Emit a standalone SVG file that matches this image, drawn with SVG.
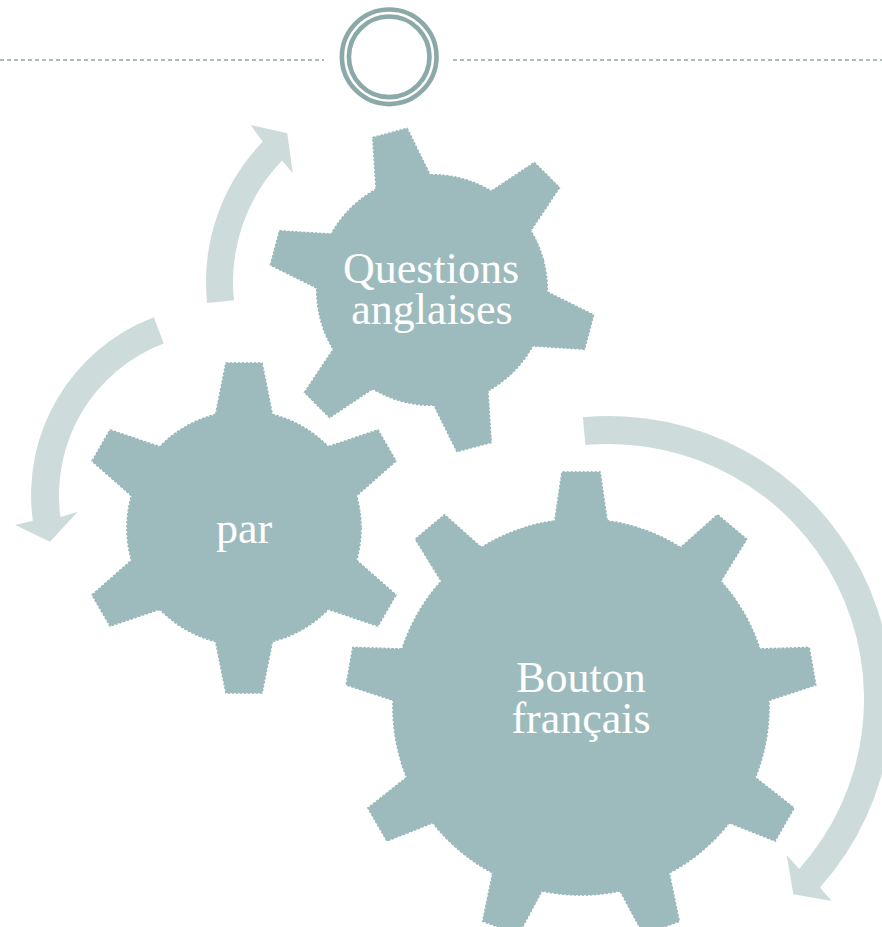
<svg xmlns="http://www.w3.org/2000/svg" width="882" height="927" viewBox="0 0 882 927">
<style>
.arrow{fill:#cddcdb;stroke:none}
.gline{fill:none;stroke:#93b3b5;stroke-width:1.6;stroke-dasharray:2.5 1.5}
.gfill{fill:#9dbbbd;stroke:none}
.lbl{font-family:"Liberation Serif","Times New Roman",serif;font-size:44px;fill:#ffffff;text-anchor:middle}
.ring{fill:none;stroke:#8ba9a8;stroke-width:4.6}
.rule{fill:none;stroke:#8ba9a8;stroke-width:1.3;stroke-dasharray:4 3}
</style>
<defs>
  <polygon id="t6" points="-29,-110 -18,-165 18,-165 29,-110"/>
  <g id="g6">
    <circle r="117"/>
    <use href="#t6"/>
    <use href="#t6" transform="rotate(60)"/>
    <use href="#t6" transform="rotate(120)"/>
    <use href="#t6" transform="rotate(180)"/>
    <use href="#t6" transform="rotate(240)"/>
    <use href="#t6" transform="rotate(300)"/>
  </g>
  <polygon id="t9" points="-27,-180 -19,-235 19,-235 27,-180"/>
  <g id="g9">
    <circle r="188"/>
    <use href="#t9"/>
    <use href="#t9" transform="rotate(40)"/>
    <use href="#t9" transform="rotate(80)"/>
    <use href="#t9" transform="rotate(120)"/>
    <use href="#t9" transform="rotate(160)"/>
    <use href="#t9" transform="rotate(200)"/>
    <use href="#t9" transform="rotate(240)"/>
    <use href="#t9" transform="rotate(280)"/>
    <use href="#t9" transform="rotate(320)"/>
  </g>
</defs>

<g id="header">
  <line class="rule" x1="0" y1="60" x2="324" y2="60"/>
  <line class="rule" x1="453" y1="60" x2="882" y2="60"/>
  <circle class="ring" cx="389.2" cy="56.8" r="47.3"/>
  <circle class="ring" cx="389.2" cy="56.8" r="40.3"/>
</g>

<g id="connectors">
  <path class="arrow" d="M 207.1,303.1 A 202 202 0 0 1 262.7,141.7 L 250.7,125 L 287.3,133.3 L 292.7,173.3 L 282.1,160.4 A 175 175 0 0 0 234,300.3 Z"/>
  <path class="arrow" d="M 153.8,317.3 A 190 190 0 0 0 32.8,520.8 L 15,525 L 50,541.7 L 77.7,511.7 L 60.5,517 A 162 162 0 0 1 163.7,343.5 Z"/>
  <path class="arrow" d="M 582.9,417.2 A 283 283 0 0 1 820,887.6 L 831.7,901 L 793.3,894.3 L 786.7,855 L 799.1,869 A 255 255 0 0 0 585.4,445.1 Z"/>
</g>

<g id="node-questions">
  <g transform="translate(432,290) rotate(-15) scale(0.985)">
    <use href="#g6" class="gline"/>
    <use href="#g6" class="gfill"/>
  </g>
  <text class="lbl" x="431" y="283">Questions</text>
  <text class="lbl" x="432" y="324">anglaises</text>
</g>

<g id="node-par">
  <g transform="translate(244,528)">
    <use href="#g6" class="gline"/>
    <use href="#g6" class="gfill"/>
  </g>
  <text class="lbl" x="244" y="543">par</text>
</g>

<g id="node-bouton">
  <g transform="translate(581,707)">
    <use href="#g9" class="gline"/>
    <use href="#g9" class="gfill"/>
  </g>
  <text class="lbl" x="581" y="692">Bouton</text>
  <text class="lbl" x="581" y="733">français</text>
</g>
</svg>
